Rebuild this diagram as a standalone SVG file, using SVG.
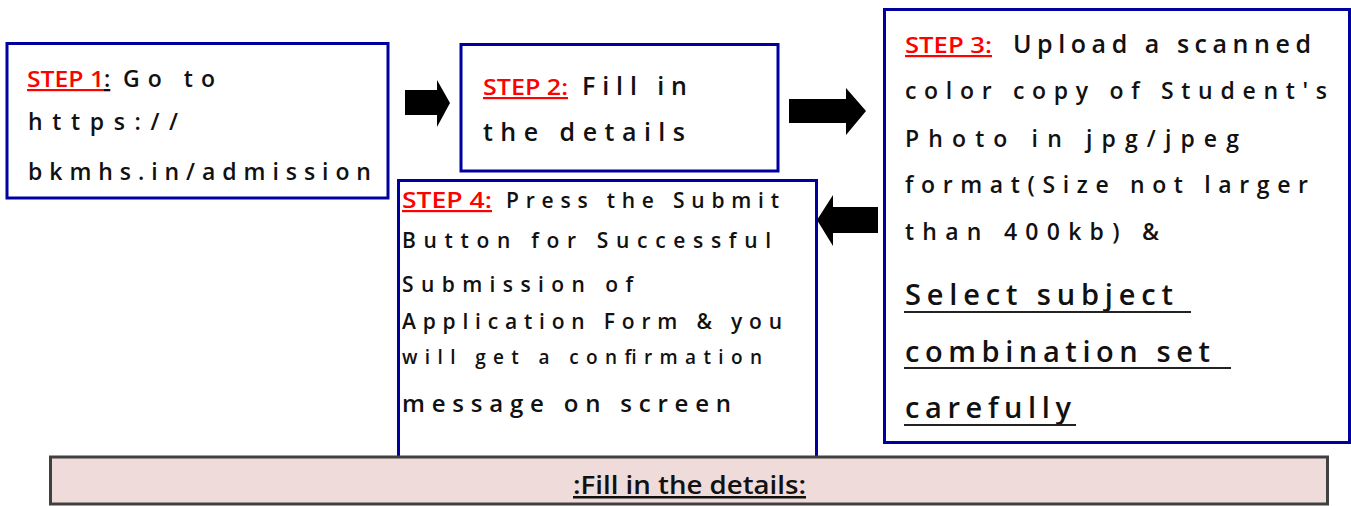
<svg xmlns="http://www.w3.org/2000/svg" width="1351" height="506" viewBox="0 0 1351 506">
<style>
.box{fill:#ffffff;stroke:#0000a0;stroke-width:3}
.t{font-family:"Open Sans","Noto Sans","DejaVu Sans",sans-serif;font-weight:600;fill:#111111}
.step{font-family:"Open Sans","Noto Sans","DejaVu Sans",sans-serif;font-weight:600;fill:#ff0000;text-decoration:underline}
.arrow{fill:#000000}
.u{text-decoration:underline}
.ul{stroke:#222222;stroke-width:2}
</style>
<rect width="1351" height="506" fill="#ffffff"/>
<g id="connectors">
<polygon class="arrow" points="405,90 437,90 437,80 450,103 437,127 437,115 405,115"/>
<polygon class="arrow" points="789,99 846,99 846,88 866,111 846,135 846,123 789,123"/>
<polygon class="arrow" points="878,207 833,207 833,195 817,220 833,246 833,233 878,233"/>
</g>
<g id="step1">
<rect class="box" x="7" y="43.5" width="381" height="154.5"/>
<text class="step" x="27" y="87" font-size="22" textLength="77" lengthAdjust="spacingAndGlyphs">STEP 1</text>
<text class="t u" x="104" y="87" font-size="23">:</text>
<text class="t" x="123" y="87" font-size="23" textLength="92" lengthAdjust="spacing">Go to</text>
<text class="t" x="28" y="130" font-size="23" textLength="150" lengthAdjust="spacing">https://</text>
<text class="t" x="28" y="180" font-size="23" textLength="343" lengthAdjust="spacing">bkmhs.in/admission</text>
</g>
<g id="step2">
<rect class="box" x="461" y="44.5" width="317" height="126.5"/>
<text class="step" x="483" y="95" font-size="22" textLength="85" lengthAdjust="spacingAndGlyphs">STEP 2:</text>
<text class="t" x="582" y="95" font-size="25" textLength="105" lengthAdjust="spacing">Fill in</text>
<text class="t" x="483" y="141" font-size="25" textLength="202" lengthAdjust="spacing">the details</text>
</g>
<g id="step3">
<rect class="box" x="884.5" y="9.5" width="465" height="433"/>
<text class="step" x="905" y="53" font-size="22" textLength="87" lengthAdjust="spacingAndGlyphs">STEP 3:</text>
<text class="t" x="1013" y="53" font-size="25" textLength="298" lengthAdjust="spacing">Upload a scanned</text>
<text class="t" x="905" y="99" font-size="23" textLength="422" lengthAdjust="spacing">color copy of Student's</text>
<text class="t" x="905" y="147" font-size="23" textLength="334" lengthAdjust="spacing">Photo in jpg/jpeg</text>
<text class="t" x="905" y="193" font-size="23" textLength="403" lengthAdjust="spacing">format(Size not larger</text>
<text class="t" x="905" y="240" font-size="23" textLength="254" lengthAdjust="spacing">than 400kb) &amp;</text>
<text class="t" x="905" y="305" font-size="29" textLength="268" lengthAdjust="spacing">Select subject</text>
<text class="t" x="905" y="362" font-size="29" textLength="305" lengthAdjust="spacing">combination set</text>
<text class="t" x="905" y="418" font-size="29" textLength="166" lengthAdjust="spacing">carefully</text>
<line class="ul" x1="904" y1="312" x2="1191" y2="312"/>
<line class="ul" x1="904" y1="368" x2="1231" y2="368"/>
<line class="ul" x1="904" y1="425" x2="1076" y2="425"/>
</g>
<g id="step4">
<rect class="box" x="398.5" y="180.5" width="418" height="290"/>
<text class="step" x="402" y="208" font-size="22" textLength="90" lengthAdjust="spacingAndGlyphs">STEP 4:</text>
<text class="t" x="506" y="208" font-size="21" textLength="273" lengthAdjust="spacing">Press the Submit</text>
<text class="t" x="402" y="248" font-size="21" textLength="369" lengthAdjust="spacing">Button for Successful</text>
<text class="t" x="402" y="292" font-size="21" textLength="231" lengthAdjust="spacing">Submission of</text>
<text class="t" x="402" y="329" font-size="21" textLength="380" lengthAdjust="spacing">Application Form &amp; you</text>
<text class="t" x="402" y="364" font-size="19" textLength="360" lengthAdjust="spacing">will get a confirmation</text>
<text class="t" x="402" y="412" font-size="24" textLength="329" lengthAdjust="spacing">message on screen</text>
</g>
<g id="footer">
<rect x="50.5" y="457" width="1277" height="47" fill="#f0dbdb" stroke="#404040" stroke-width="3"/>
<text class="t u" x="573" y="494" font-size="25" textLength="233" lengthAdjust="spacingAndGlyphs">:Fill in the details:</text>
</g>
</svg>
